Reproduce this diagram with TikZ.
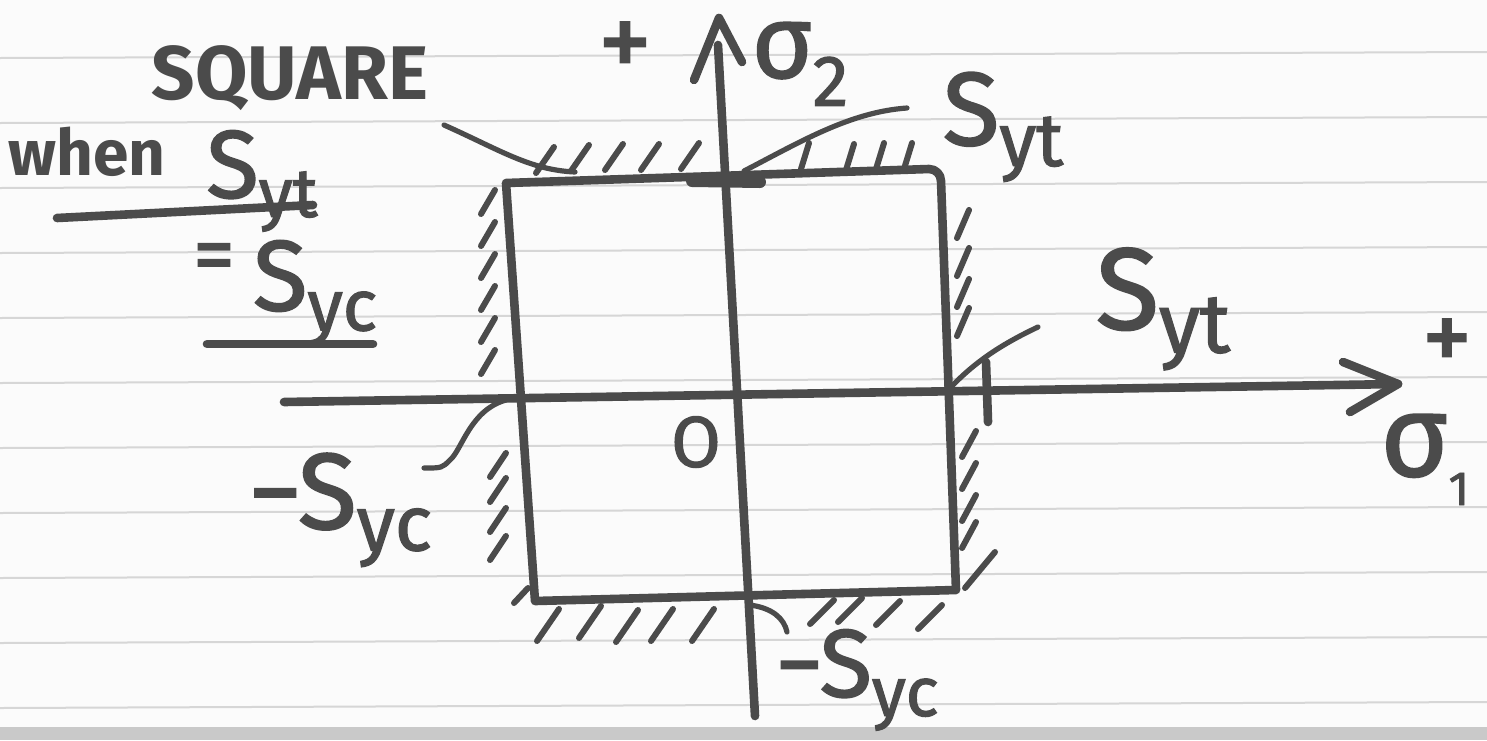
\documentclass[tikz,border=0pt]{standalone}
\usepackage{fontspec}
\setmainfont{Fira Sans}
\newfontfamily\mk[FakeBold=1.6]{Fira Sans}
\definecolor{ink}{HTML}{4B4B4B}
\definecolor{ruleline}{HTML}{D6D6D6}
\definecolor{paper}{HTML}{FBFBFB}
\definecolor{band}{HTML}{C9C9C9}
\newcommand\hsub[1]{\raisebox{-0.2em}{\scalebox{0.72}{#1}}}
\tikzset{
 pen/.style={draw=ink,line width=4.3pt,line cap=round,line join=round},
 leader/.style={draw=ink,line width=2.6pt,line cap=round,line join=round},
 hatchln/.style={draw=ink,line width=3pt,line cap=round},
 hand/.style={text=ink,inner sep=0pt,font=\mk\fontsize{48}{48}\selectfont},
}
\begin{document}
\begin{tikzpicture}[x=0.5pt,y=-0.5pt]
\useasboundingbox (0,0) rectangle (1487,740);
\fill[paper] (0,0) rectangle (1487,740);
% ruled paper
\foreach \k in {0,...,10}
  \draw[ruleline,line width=1pt] (0,{58+65*\k}) -- (1487,{52+65*\k});
\fill[band] (0,727) rectangle (1487,740);

% square (limit curve)
\coordinate (tl) at (506,183);
\coordinate (tr) at (941,169);
\coordinate (br) at (956,590);
\coordinate (bl) at (535,601);
\draw[pen] (tl) -- ([xshift=-6pt]tr) to[out=0,in=90] ([yshift=-6pt]tr) -- (br) -- (bl) -- cycle;

% horizontal axis sigma_1
\coordinate (xl) at (284,402);
\coordinate (xr) at (1398,384);
\coordinate (xa1) at (1343,362);
\coordinate (xa2) at (1350,412);
\draw[pen] (xl) -- (xr);
\draw[pen] (xa1) -- (xr) -- (xa2);

% vertical axis sigma_2
\coordinate (yb) at (755,716);
\coordinate (ytop) at (718,45);
\coordinate (yap) at (719,18);
\coordinate (ya1) at (694,80);
\coordinate (ya2) at (742,62);
\draw[pen] (yb) -- (ytop);
\draw[pen] (ya1) -- (yap) -- (ya2);

% tick marks
\draw[pen,line width=6pt] (692,181) -- (760,182);
\draw[pen] (986,362) -- (988,422);

% hatching
\foreach \x/\y in {545/160,580/158,614/157,650/157,690/156}
  \draw[hatchln] (\x-9,\y+13) -- (\x+9,\y-13);
\foreach \x/\y in {805/156,850/157,880/156,908/156}
  \draw[hatchln] (\x-4,\y+13) -- (\x+4,\y-13);
\foreach \y in {202,234,266,298,330,362}
  \draw[hatchln] (488-7,\y+12) -- (488+7,\y-12);
\foreach \y in {465,490,520,548}
  \draw[hatchln] (498-8,\y+12) -- (498+8,\y-12);
\foreach \y in {224,262,293,322}
  \draw[hatchln] (963-6,\y+14) -- (963+6,\y-14);
\foreach \y in {444,476,508,535}
  \draw[hatchln] (969-7,\y+13) -- (969+7,\y-13);
\draw[hatchln] (965,588) -- (995,552);
\foreach \x/\y in {548/625,590/622,627/626,662/625,703/625}
  \draw[hatchln] (\x-11,\y+16) -- (\x+11,\y-16);
\foreach \x/\y in {822/612,850/610,888/613,930/617}
  \draw[hatchln] (\x-12,\y+12) -- (\x+12,\y-12);
\draw[hatchln] (514,603) -- (528,588);

% labels
\node[hand,font=\bfseries\fontsize{38}{38}\selectfont] (sq) at (290,78) {SQUARE};
\node[hand,font=\bfseries\fontsize{32}{32}\selectfont] (when) at (87,152) {when};
\node[hand] (syt1) at (262,181) {S\hsub{yt}};
\node[hand,font=\mk\fontsize{42}{42}\selectfont] (eq) at (214,263) {=};
\node[hand,font=\mk\fontsize{50}{50}\selectfont] (syc0) at (315,293) {S\hsub{yc}};
\node[hand,font=\mk\fontsize{54}{54}\selectfont] (plus2) at (625,50) {+};
\node[hand,font=\mk\fontsize{52}{52}\selectfont] (sig2) at (800,64) {σ\raisebox{-14pt}{\fontsize{36}{36}\selectfont 2}};
\node[hand,font=\mk\fontsize{52}{52}\selectfont] (syt2) at (1003,127) {S\hsub{yt}};
\node[hand,font=\mk\fontsize{58}{58}\selectfont] (syt3) at (1163,309) {S\hsub{yt}};
\node[hand,font=\mk\fontsize{50}{50}\selectfont] (plus1) at (1447,345) {+};
\node[hand,font=\mk\fontsize{58}{58}\selectfont,anchor=base west] (sig1) at (1380,476)
  {σ\raisebox{-0.25em}{\fontsize{24}{24}\selectfont 1}};
\node[hand,font=\mk\fontsize{36}{36}\selectfont] (orig) at (696,442) {O};
\node[hand,font=\mk\fontsize{54}{54}\selectfont] (syc1) at (340,510) {−S\hsub{yc}};
\node[hand,font=\mk\fontsize{48}{48}\selectfont] (syc2) at (857,680) {−S\hsub{yc}};

% underlines of the note
\coordinate (u1a) at (57,218);
\coordinate (u1b) at (313,205);
\coordinate (u2a) at (207,344);
\coordinate (u2b) at (373,344);
\draw[pen] (u1a) -- (u1b);
\draw[pen] (u2a) -- (u2b);

% leader lines
\coordinate (sqa) at (444,125);
\coordinate (sqb) at (575,172);
\draw[leader] (sqa) .. controls (500,150) and (530,170) .. (sqb);
\coordinate (t2a) at (744,171);
\coordinate (t2b) at (907,108);
\draw[leader] (t2a) .. controls (800,142) and (850,112) .. (t2b);
\coordinate (t3a) at (950,388);
\coordinate (t3b) at (1038,327);
\draw[leader] (t3a) .. controls (975,362) and (1000,345) .. (t3b);
\coordinate (c1a) at (506,400);
\coordinate (c1b) at (424,468);
\draw[leader] (c1a) .. controls (470,410) and (462,450) .. (450,460) .. controls (442,468) .. (c1b);
\coordinate (c2a) at (750,605);
\coordinate (c2b) at (787,632);
\draw[leader] (c2a) .. controls (772,608) and (784,618) .. (c2b);
\end{tikzpicture}
\end{document}
